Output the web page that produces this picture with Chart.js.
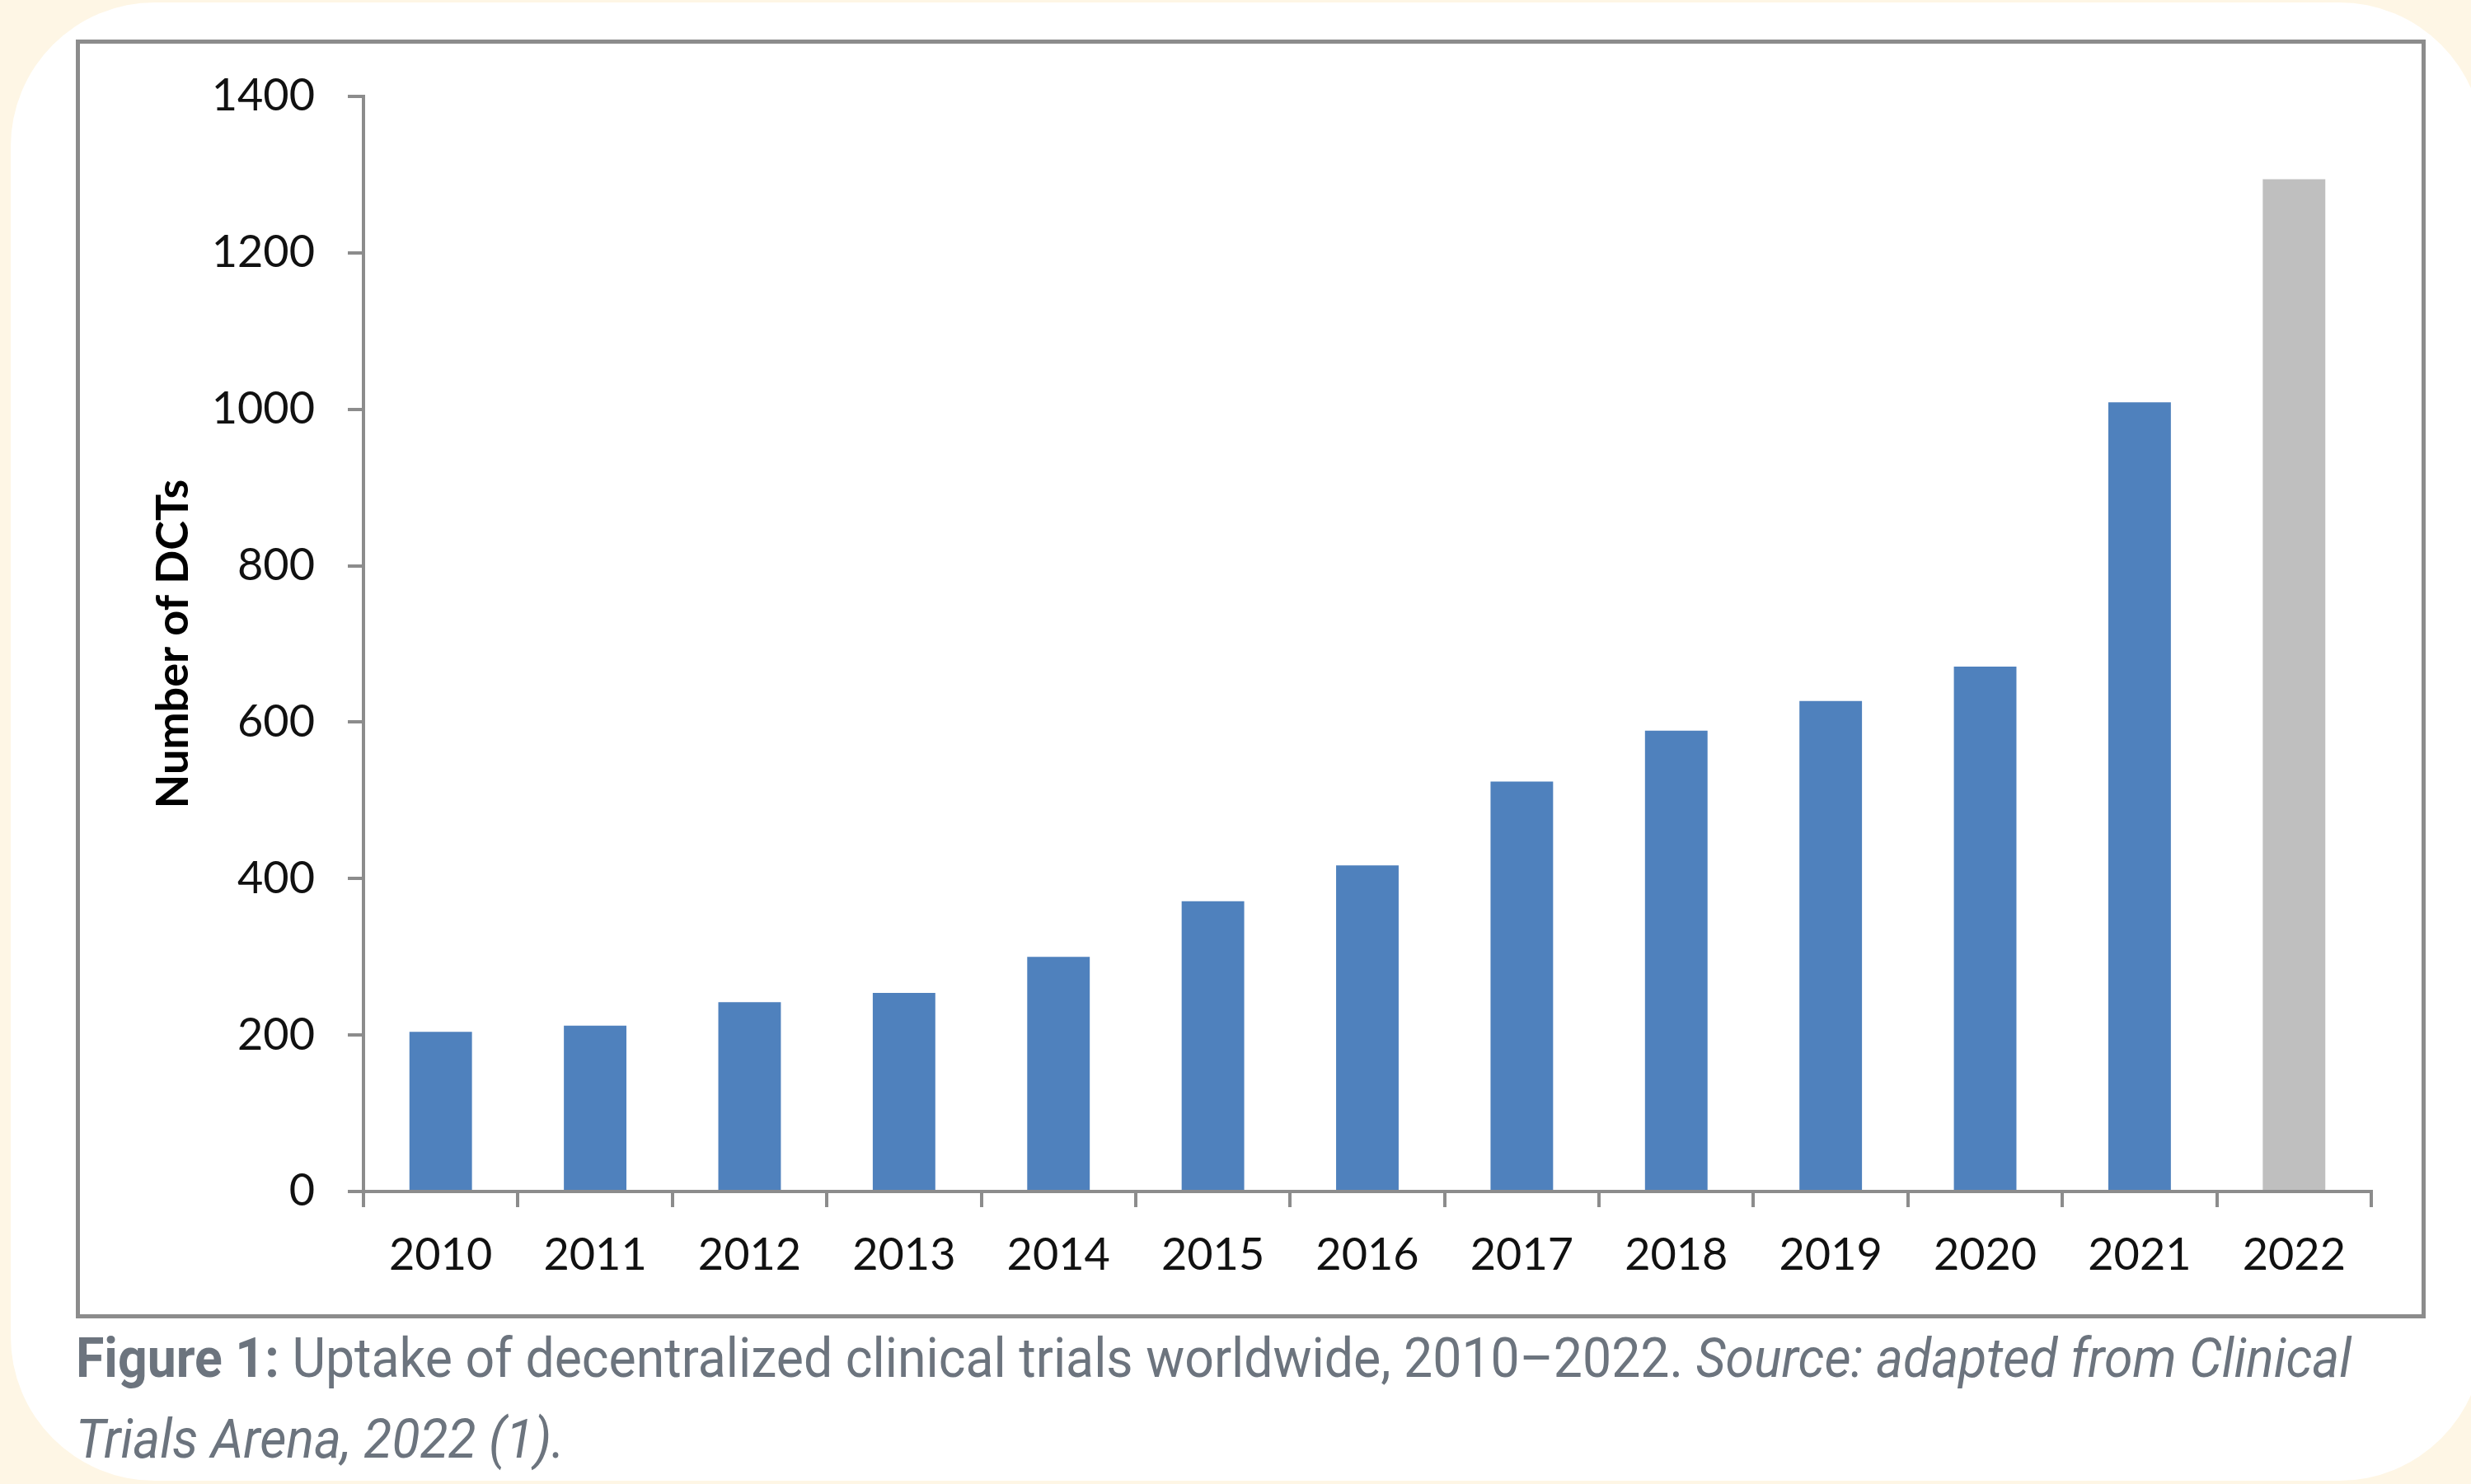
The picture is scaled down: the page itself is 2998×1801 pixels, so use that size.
<!DOCTYPE html>
<html>
<head>
<meta charset="utf-8">
<title>Uptake of decentralized clinical trials</title>
<script src="https://cdn.jsdelivr.net/npm/chart.js@4.4.1/dist/chart.umd.min.js"></script>
<style>
  html, body { margin: 0; padding: 0; }
  body { width: 2998px; height: 1801px; background: #fef6e5; position: relative; overflow: hidden; }
  #panel { position: absolute; left: 13px; top: 3px; width: 3000px; height: 1794px; background: #fff; border-radius: 175px; }
  #frame { position: absolute; left: 92px; top: 48px; width: 2841px; height: 1542px; border: 5px solid #8c8c8c; background: #fff; }
  #frame canvas { display: block; }
  #caption { position: absolute; left: 92px; top: 1600px; font-family: Roboto, sans-serif; font-size: 66px; line-height: 98px;
             color: #6c747e; white-space: nowrap; transform-origin: 0 0; }
  #caption b { font-weight: 700; }
  #caption i { font-style: italic; }
</style>
</head>
<body>
<div id="panel"></div>
<div id="frame"><canvas id="chart" width="2841" height="1542"></canvas></div>
<div id="caption">
  <div><span id="line1"><b>Figure 1:</b> Uptake of decentralized clinical trials worldwide, 2010–2022. <i>Source: adapted from Clinical</i></span></div>
  <div><i>Trials Arena, 2022 (1).</i></div>
</div>
<script>
// data
const years = ['2010', '2011', '2012', '2013', '2014', '2015', '2016', '2017', '2018', '2019', '2020', '2021', '2022']
const dctCounts = [204, 212, 242, 254, 300, 371, 417, 524, 589, 627, 671, 1009, 1294]
const yTicks = [0, 200, 400, 600, 800, 1000, 1200, 1400]

const blue = '#4f81bd'
const grey = '#bfbfbf'
const axisGrey = '#8c8c8c'
const barColors = years.map(y => y === '2022' ? grey : blue)

const tickFont = { family: 'Lato', size: 54 }

const config = {
  type: 'bar',
  data: {
    labels: years,
    datasets: [{
      label: 'Number of DCTs',
      data: dctCounts,
      backgroundColor: barColors,
      borderWidth: 0,
      barPercentage: 0.405,
      categoryPercentage: 1.0
    }]
  },
  options: {
    responsive: false,
    animation: false,
    devicePixelRatio: 1,
    layout: { padding: { left: 0, right: 61, top: 64, bottom: 0 } },
    plugins: { legend: { display: false }, tooltip: { enabled: false } },
    scales: {
      x: {
        grid: { offset: true, drawOnChartArea: false, drawTicks: true, tickLength: 19, tickWidth: 4, tickColor: axisGrey, color: axisGrey, lineWidth: 4 },
        border: { display: true, color: axisGrey, width: 4 },
        ticks: { color: '#111', font: tickFont, padding: 26, maxRotation: 0, autoSkip: false },
        afterFit: s => { s.height = 149 }
      },
      y: {
        min: 0,
        max: 1400,
        afterBuildTicks: s => { s.ticks = yTicks.map(v => ({ value: v })) },
        grid: { drawOnChartArea: false, drawTicks: true, tickLength: 19, tickWidth: 4, tickColor: axisGrey, color: axisGrey, lineWidth: 4 },
        border: { display: true, color: axisGrey, width: 4 },
        ticks: { color: '#111', font: tickFont, padding: 40, callback: v => String(v) },
        title: { display: true, text: 'Number of DCTs', color: '#000', font: { family: 'Lato', size: 54, weight: 'bold' }, padding: { top: 81, bottom: 0 } },
        // fixed axis width; drop the label padding so the layout padding sets the top
        afterFit: s => { s.width = 344; s.paddingTop = 0; s.paddingBottom = 0 }
      }
    }
  }
}

const chart = new Chart(document.getElementById('chart'), config)

// the caption text in the figure is set narrower than plain Roboto
const line1 = document.getElementById('line1')
const w = line1.getBoundingClientRect().width
document.getElementById('caption').style.transform = `scaleX(${2761 / w})`
</script>
</body>
</html>
